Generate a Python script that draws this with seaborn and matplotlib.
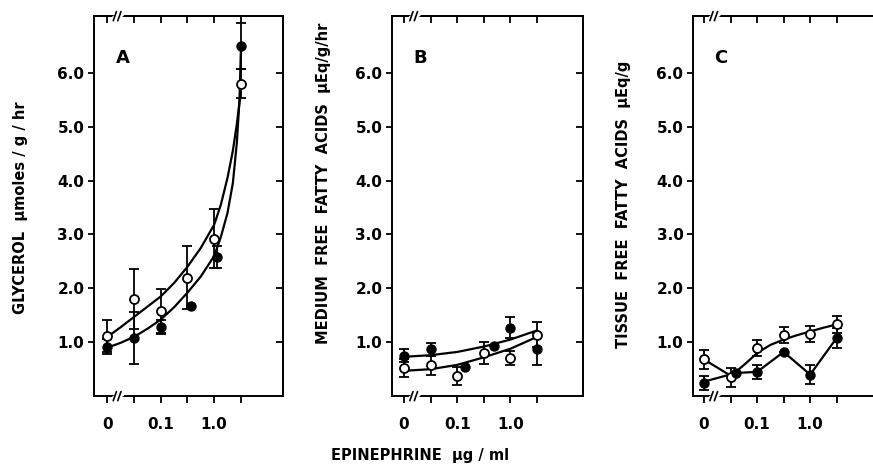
import numpy as np
import pandas as pd
import matplotlib
matplotlib.use("Agg")
import matplotlib.pyplot as plt
import seaborn as sns

# x positions are tick slots: 0 -> "0", 2 -> "0.1", 4 -> "1.0"
tick_pos = [0, 1, 2, 3, 4, 5]
tick_labels = ["0", "", "0.1", "", "1.0", ""]
y_ticks = [1, 2, 3, 4, 5, 6]
y_tick_labels = ["1.0", "2.0", "3.0", "4.0", "5.0", "6.0"]

# Panel A - glycerol
a_open_x = [0, 1, 2, 3, 4, 5]
a_open_y = [1.12, 1.80, 1.58, 2.20, 2.92, 5.80]
a_open_err = [0.30, 0.55, 0.40, 0.58, 0.55, 0.27]
a_fill_x = [0, 1, 2, 3.15, 4.1, 5]
a_fill_y = [0.92, 1.08, 1.28, 1.68, 2.58, 6.50]
a_fill_err = [0.14, 0.48, 0.13, 0.0, 0.20, 0.43]
a_curve_x = [0, 0.5, 1, 1.5, 2, 2.5, 3, 3.5, 4, 4.25, 4.5, 4.7, 4.85, 4.95, 5]
a_open_curve_y = [1.10, 1.28, 1.47, 1.66, 1.85, 2.10, 2.40, 2.75, 3.18, 3.55, 4.05, 4.55, 5.05, 5.45, 5.75]
a_fill_curve_y = [0.90, 0.99, 1.10, 1.25, 1.42, 1.65, 1.92, 2.22, 2.60, 2.95, 3.40, 3.95, 4.70, 5.50, 6.40]

# Panel B - medium FFA
b_open_x = [0, 1, 2, 3, 4, 5]
b_open_y = [0.52, 0.57, 0.38, 0.80, 0.70, 1.14]
b_open_err = [0.16, 0.18, 0.17, 0.20, 0.13, 0.23]
b_fill_x = [0, 1, 2.3, 3.4, 4, 5]
b_fill_y = [0.75, 0.87, 0.55, 0.93, 1.27, 0.87]
b_fill_err = [0.12, 0.12, 0.0, 0.0, 0.20, 0.30]
b_curve_x = [0, 1, 2, 3, 4, 5]
b_open_curve_y = [0.47, 0.50, 0.58, 0.72, 0.88, 1.10]
b_fill_curve_y = [0.73, 0.76, 0.82, 0.92, 1.05, 1.22]

# Panel C - tissue FFA
c_open_x = [0, 1, 2, 3, 4, 5]
c_open_y = [0.68, 0.35, 0.90, 1.13, 1.15, 1.33]
c_open_err = [0.17, 0.18, 0.15, 0.15, 0.15, 0.15]
c_fill_x = [0, 1.2, 2, 3, 4, 5]
c_fill_y = [0.25, 0.43, 0.45, 0.82, 0.40, 1.08]
c_fill_err = [0.13, 0.0, 0.13, 0.0, 0.18, 0.18]
c_open_curve_x = [0, 1, 1.2, 1.6, 2, 2.5, 3, 3.5, 4, 4.5, 5]
c_open_curve_y = [0.68, 0.38, 0.45, 0.62, 0.80, 0.95, 1.05, 1.13, 1.20, 1.27, 1.33]
c_fill_curve_x = [0, 1.2, 2, 3, 4, 5]
c_fill_curve_y = [0.27, 0.43, 0.45, 0.82, 0.40, 1.08]

sns.set_style("ticks")
plt.rcParams['font.family'] = ['DejaVu Sans']
plt.rcParams['font.weight'] = 'bold'
for key in ['text.color', 'axes.edgecolor', 'axes.labelcolor', 'xtick.color', 'ytick.color']:
    plt.rcParams[key] = 'black'

fig = plt.figure(figsize=(8.73, 4.75), dpi=100)

panels = [
    dict(rect=[0.1077, 0.166, 0.2165, 0.800], xlim=(-0.5, 6.58), letter="A",
         ylabel="GLYCEROL  \u00b5moles / g / hr", ylab_pos=(0.024, 0.562),
         open=(a_open_x, a_open_y, a_open_err), fill=(a_fill_x, a_fill_y, a_fill_err),
         ocurve=(a_curve_x, a_open_curve_y), fcurve=(a_curve_x, a_fill_curve_y)),
    dict(rect=[0.449, 0.166, 0.219, 0.800], xlim=(-0.45, 6.73), letter="B",
         ylabel="MEDIUM  FREE  FATTY  ACIDS  \u00b5Eq/g/hr", ylab_pos=(0.370, 0.615),
         open=(b_open_x, b_open_y, b_open_err), fill=(b_fill_x, b_fill_y, b_fill_err),
         ocurve=(b_curve_x, b_open_curve_y), fcurve=(b_curve_x, b_fill_curve_y)),
    dict(rect=[0.794, 0.166, 0.210, 0.800], xlim=(-0.41, 6.5), letter="C",
         ylabel="TISSUE  FREE  FATTY  ACIDS  \u00b5Eq/g", ylab_pos=(0.714, 0.570),
         open=(c_open_x, c_open_y, c_open_err), fill=(c_fill_x, c_fill_y, c_fill_err),
         ocurve=(c_open_curve_x, c_open_curve_y), fcurve=(c_fill_curve_x, c_fill_curve_y)),
]

for p in panels:
    ax = fig.add_axes(p["rect"])
    ax.set_xlim(*p["xlim"])
    ax.set_ylim(0, 7.05)

    for cx, cy in [p["ocurve"], p["fcurve"]]:
        sns.lineplot(x=cx, y=cy, ax=ax, color="black", lw=1.6, sort=False,
                     estimator=None, zorder=2)

    ox, oy, oe = p["open"]
    fx, fy, fe = p["fill"]
    ax.errorbar(ox, oy, yerr=oe, fmt="none", ecolor="black", elinewidth=1.3,
                capsize=3.5, capthick=1.3, zorder=3)
    ax.errorbar(fx, fy, yerr=fe, fmt="none", ecolor="black", elinewidth=1.3,
                capsize=3.5, capthick=1.3, zorder=3)
    sns.scatterplot(x=ox, y=oy, ax=ax, marker="o", s=42, facecolor="white",
                    edgecolor="black", linewidth=1.3, zorder=4)
    sns.scatterplot(x=fx, y=fy, ax=ax, marker="o", s=42, color="black",
                    edgecolor="black", linewidth=1.0, zorder=4)

    ax.set_xticks(tick_pos)
    ax.set_xticklabels(tick_labels, fontsize=11, fontweight="bold")
    ax.set_yticks(y_ticks)
    ax.set_yticklabels(y_tick_labels, fontsize=11, fontweight="bold")
    ax.tick_params(axis="x", direction="out", length=5, width=1.3, pad=10)
    ax.tick_params(axis="y", direction="out", length=4, width=1.3, pad=3)
    ax.set_xlabel("")
    ax.set_ylabel("")

    top = ax.secondary_xaxis("top")
    top.set_xticks(tick_pos)
    top.set_xticklabels([])
    top.tick_params(direction="in", length=5, width=1.3)
    right = ax.secondary_yaxis("right")
    right.set_yticks(y_ticks)
    right.set_yticklabels([])
    right.tick_params(direction="in", length=5, width=1.3)
    for sp in list(ax.spines.values()) + list(top.spines.values()) + list(right.spines.values()):
        sp.set_linewidth(1.4)
    if p["letter"] == "C":
        right.spines["right"].set_visible(False)
        ax.spines["right"].set_visible(False)
        right.tick_params(length=0)

    # axis break marks on top and bottom spines
    tr = ax.get_xaxis_transform()
    for yb in (0, 1):
        ax.plot([0.25, 0.55], [yb - 0.004, yb + 0.004], transform=tr, color="white",
                lw=3, clip_on=False, zorder=5)
        for xb in (0.28, 0.45):
            ax.plot([xb - 0.06, xb + 0.06], [yb - 0.012, yb + 0.012], transform=tr,
                    color="black", lw=1.2, clip_on=False, zorder=6)

    ax.text(0.15, 0.89, p["letter"], transform=ax.transAxes, fontsize=13,
            fontweight="bold", ha="center", va="center")
    fig.text(p["ylab_pos"][0], p["ylab_pos"][1], p["ylabel"], rotation=90,
             ha="center", va="center", fontsize=10.5, fontweight="bold")

fig.text(0.481, 0.042, "EPINEPHRINE  \u00b5g / ml", ha="center", va="center",
         fontsize=10.5, fontweight="bold")

fig.savefig("out.png", dpi=100)
